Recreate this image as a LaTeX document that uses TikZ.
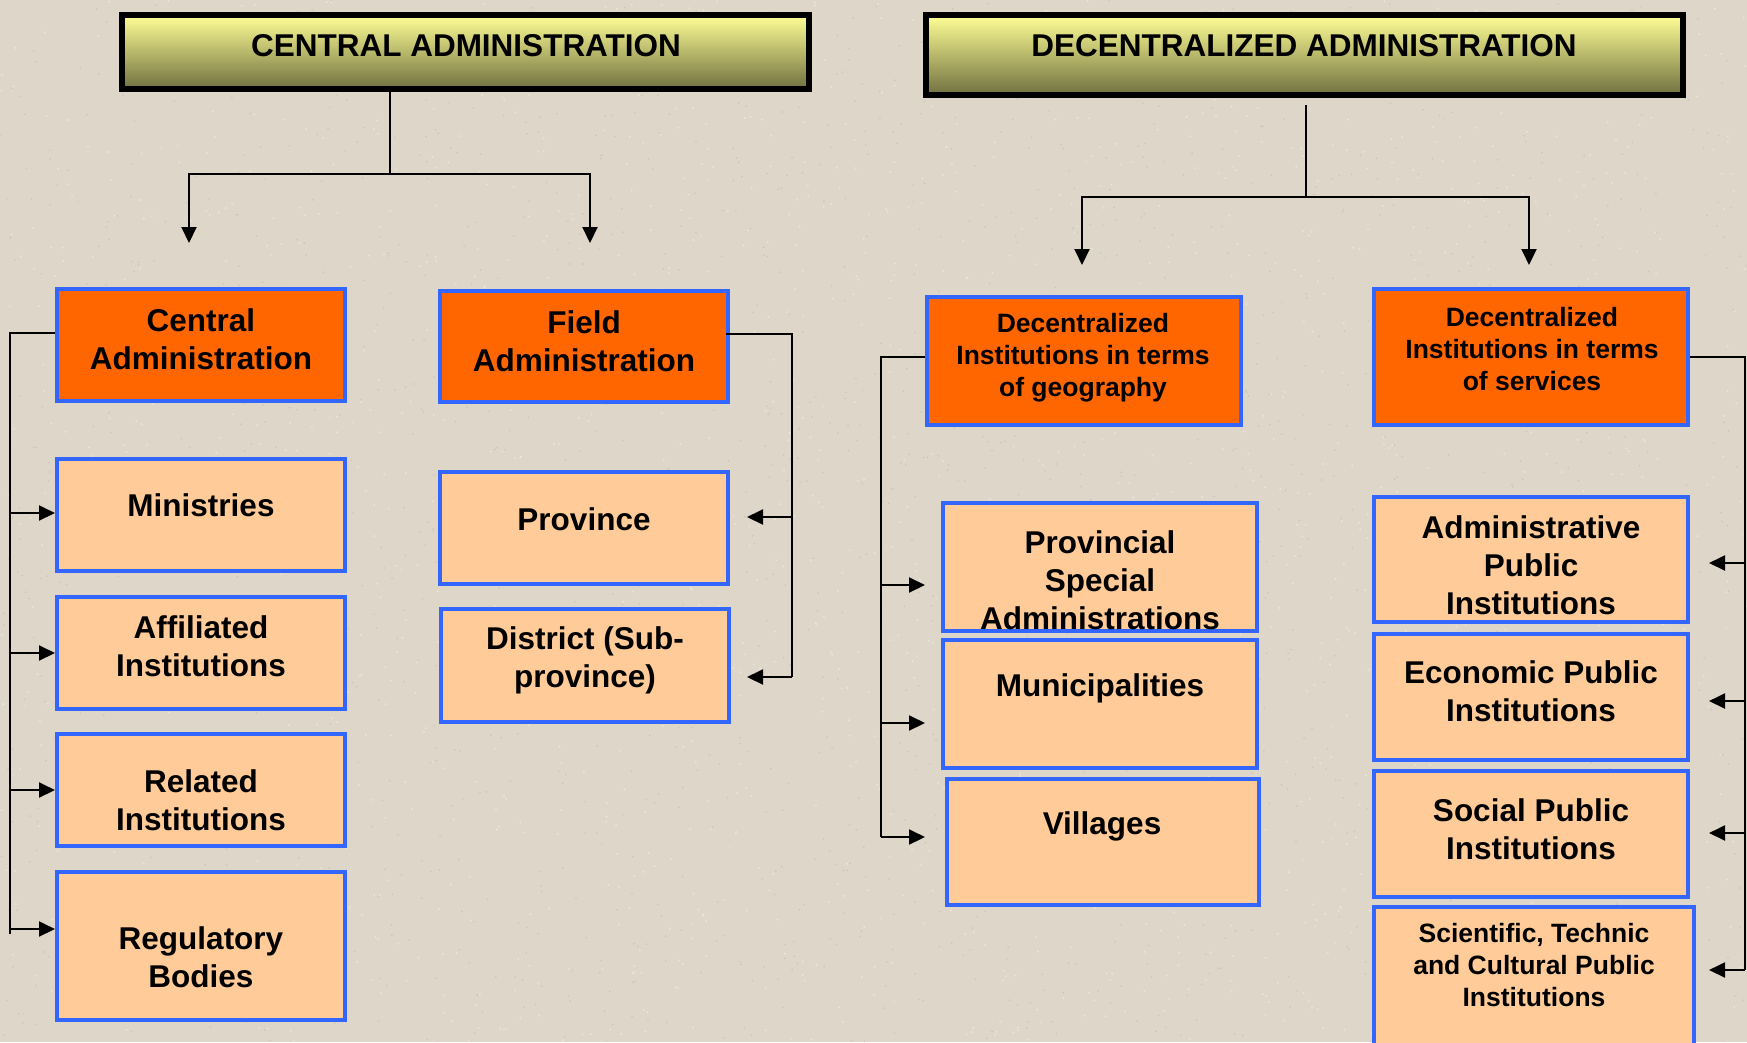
\documentclass[tikz,border=0pt]{standalone}
\usepackage{fontspec}
\setmainfont{Liberation Sans}
\usetikzlibrary{arrows.meta,calc}

\definecolor{paper}{RGB}{222,214,200}
\definecolor{speckdark}{RGB}{190,182,168}
\definecolor{specklight}{RGB}{240,236,226}
\definecolor{frameblue}{RGB}{51,102,255}
\definecolor{headorange}{RGB}{255,102,0}
\definecolor{itempeach}{RGB}{255,204,153}
\definecolor{titletop}{RGB}{255,255,150}
\definecolor{titlebottom}{RGB}{112,112,64}

% box from its outer corners: name, style, x1, y1, x2, y2
\newcommand{\mkpanel}[6]{%
  \node[#2, minimum width={#5-#3-4}, minimum height={#6-#4-4}] (#1)
    at ({(#3+#5)/2},{(#4+#6)/2}) {};}

\begin{document}
\begin{tikzpicture}[x=1pt,y=-1pt,
  titlebox/.style={draw=black,line width=5.5pt,top color=titletop,bottom color=titlebottom,inner sep=0pt},
  headbox/.style={draw=frameblue,line width=4pt,fill=headorange,inner sep=0pt},
  itembox/.style={draw=frameblue,line width=4pt,fill=itempeach,inner sep=0pt},
  titletxt/.style={font=\fontsize{31.5}{38}\selectfont\bfseries,inner sep=0pt},
  bigtxt/.style={font=\fontsize{31.5}{38}\selectfont\bfseries,align=center,inner sep=0pt},
  smalltxt/.style={font=\fontsize{26.5}{32}\selectfont\bfseries,align=center,inner sep=0pt},
  link/.style={line width=2pt,draw=black},
  arrowlink/.style={link,-{Triangle[length=16pt,width=15pt]}},
]
% paper background with a fine speckled grain
\fill[paper] (0,0) rectangle (1747,1042);
\useasboundingbox (0,0) rectangle (1747,1042);
\pgfmathsetseed{7}
\foreach \i in {1,...,1800}{
  \pgfmathsetmacro{\px}{rnd*1747}
  \pgfmathsetmacro{\py}{rnd*1042}
  \fill[speckdark,opacity=0.55] (\px,\py) circle (0.9);
}
\foreach \i in {1,...,1800}{
  \pgfmathsetmacro{\px}{rnd*1747}
  \pgfmathsetmacro{\py}{rnd*1042}
  \fill[specklight,opacity=0.7] (\px,\py) circle (1.1);
}

% ---- title boxes
\mkpanel{catitle}{titlebox}{120}{13}{811}{91}
\node[titletxt] (catitle-t) at (466,46) {CENTRAL ADMINISTRATION};
\mkpanel{datitle}{titlebox}{924}{13}{1685}{97}
\node[titletxt] (datitle-t) at (1304,46) {DECENTRALIZED ADMINISTRATION};

% ---- central administration column
\mkpanel{ca}{headbox}{55}{287}{347}{403}
\node[bigtxt] (ca-t) at (201,339) {Central\\Administration};
\mkpanel{min}{itembox}{55}{457}{347}{573}
\node[bigtxt] (min-t) at (201,505) {Ministries};
\mkpanel{aff}{itembox}{55}{595}{347}{711}
\node[bigtxt] (aff-t) at (201,646) {Affiliated\\Institutions};
\mkpanel{rel}{itembox}{55}{732}{347}{848}
\node[bigtxt] (rel-t) at (201,800) {Related\\Institutions};
\mkpanel{reg}{itembox}{55}{870}{347}{1022}
\node[bigtxt] (reg-t) at (201,957) {Regulatory\\Bodies};

% ---- field administration column
\mkpanel{fa}{headbox}{438}{289}{730}{404}
\node[bigtxt] (fa-t) at (584,341) {Field\\Administration};
\mkpanel{prov}{itembox}{438}{470}{730}{586}
\node[bigtxt] (prov-t) at (584,519) {Province};
\mkpanel{dist}{itembox}{439}{607}{731}{724}
\node[bigtxt] (dist-t) at (585,660) {District (Sub-\\province)};

% ---- decentralized by geography
\mkpanel{geo}{headbox}{925}{295}{1243}{427}
\node[smalltxt] (geo-t) at (1083,358) {Decentralized\\Institutions in terms\\of geography};
\mkpanel{psa}{itembox}{941}{501}{1259}{633}
\node[bigtxt] (psa-t) at (1100,580) {Provincial\\Special\\Administrations};
\mkpanel{mun}{itembox}{941}{638}{1259}{770}
\node[bigtxt] (mun-t) at (1100,688) {Municipalities};
\mkpanel{vil}{itembox}{945}{777}{1261}{907}
\node[bigtxt] (vil-t) at (1102,826) {Villages};

% ---- decentralized by services
\mkpanel{srv}{headbox}{1372}{287}{1690}{427}
\node[smalltxt] (srv-t) at (1532,349) {Decentralized\\Institutions in terms\\of services};
\mkpanel{adm}{itembox}{1372}{495}{1690}{624}
\node[bigtxt] (adm-t) at (1531,565) {Administrative\\Public\\Institutions};
\mkpanel{eco}{itembox}{1372}{632}{1690}{762}
\node[bigtxt] (eco-t) at (1531,691) {Economic Public\\Institutions};
\mkpanel{soc}{itembox}{1372}{769}{1690}{899}
\node[bigtxt] (soc-t) at (1531,829) {Social Public\\Institutions};
\mkpanel{sci}{itembox}{1372}{905}{1696}{1050}
\node[smalltxt] (sci-t) at (1534,965) {Scientific, Technic\\and Cultural Public\\Institutions};

% ---- connectors from the title boxes
\coordinate (ca-split) at (390,174);
\coordinate (ca-l) at (189,174);
\coordinate (ca-r) at (590,174);
\coordinate (ca-ltip) at (189,243);
\coordinate (ca-rtip) at (590,243);
\draw[link] (catitle.south -| ca-split) -- (ca-split);
\draw[arrowlink] (ca-split) -- (ca-l) -- (ca-ltip);
\draw[arrowlink] (ca-split) -- (ca-r) -- (ca-rtip);

\coordinate (da-top) at (1306,105);
\coordinate (da-split) at (1306,197);
\coordinate (da-l) at (1082,197);
\coordinate (da-r) at (1529,197);
\coordinate (da-ltip) at (1082,265);
\coordinate (da-rtip) at (1529,265);
\draw[link] (da-top) -- (da-split);
\draw[arrowlink] (da-split) -- (da-l) -- (da-ltip);
\draw[arrowlink] (da-split) -- (da-r) -- (da-rtip);

% ---- central administration spine
\coordinate (ls-top) at (10,333);
\coordinate (ls-bot) at (10,934);
\draw[link] (ca.west |- ls-top) -- (ls-top) -- (ls-bot);
\draw[arrowlink] (ls-top |- 0,513) -- (min.west |- 0,513);
\draw[arrowlink] (ls-top |- aff.west) -- (aff.west);
\draw[arrowlink] (ls-top |- rel.west) -- (rel.west);
\draw[arrowlink] (ls-top |- 0,929) -- (reg.west |- 0,929);

% ---- field administration spine
\coordinate (fs-top) at (792,334);
\coordinate (fs-bot) at (792,677);
\draw[link] ($(fa.east |- fs-top)+(-4,0)$) -- (fs-top) -- (fs-bot);
\draw[arrowlink] (fs-top |- 0,517) -- ($(prov.east |- 0,517)+(17,0)$);
\draw[arrowlink] (fs-bot) -- ($(dist.east |- fs-bot)+(16,0)$);

% ---- geography spine
\coordinate (gs-top) at (881,357);
\coordinate (gs-bot) at (881,837);
\draw[link] (geo.west |- gs-top) -- (gs-top) -- (gs-bot);
\draw[arrowlink] (gs-top |- 0,585) -- ($(psa.west |- 0,585)+(-16,0)$);
\draw[arrowlink] (gs-top |- 0,723) -- ($(mun.west |- 0,723)+(-16,0)$);
\draw[arrowlink] (gs-bot) -- ($(vil.west |- gs-bot)+(-20,0)$);

% ---- services spine
\coordinate (ss-top) at (1745,357);
\coordinate (ss-bot) at (1745,970);
\draw[link] (srv.east |- ss-top) -- (ss-top) -- (ss-bot);
\draw[arrowlink] (ss-top |- 0,563) -- ($(adm.east |- 0,563)+(19,0)$);
\draw[arrowlink] (ss-top |- 0,701) -- ($(eco.east |- 0,701)+(19,0)$);
\draw[arrowlink] (ss-top |- 0,833) -- ($(soc.east |- 0,833)+(19,0)$);
\draw[arrowlink] (ss-bot) -- ($(sci.east |- ss-bot)+(13,0)$);
\end{tikzpicture}
\end{document}
